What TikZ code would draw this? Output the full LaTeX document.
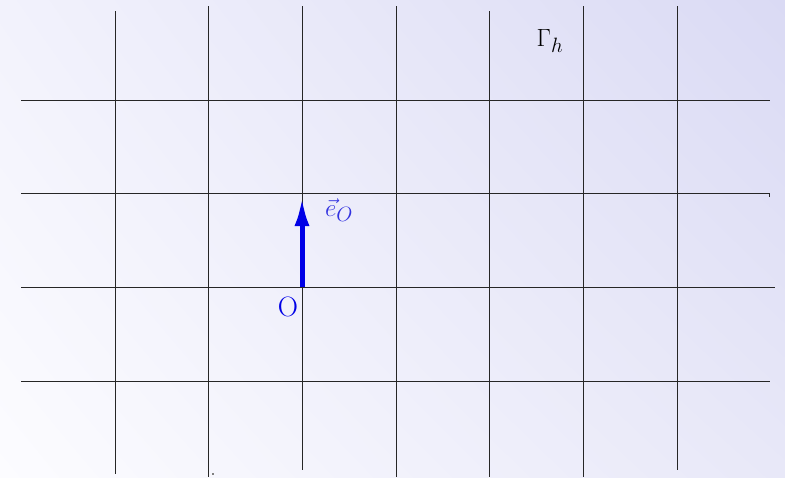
\documentclass[tikz,border=0pt]{standalone}
\usetikzlibrary{arrows.meta,shadings}
\definecolor{bgLL}{HTML}{FCFCFF}
\definecolor{bgUL}{HTML}{F2F2FC}
\definecolor{bgUR}{HTML}{DADAF4}
\definecolor{bgLR}{HTML}{E8E8F8}
\definecolor{arrblue}{HTML}{0000E6}
\definecolor{lblblue}{HTML}{3333E0}
\begin{document}
\begin{tikzpicture}[x=1pt,y=-1pt,
  gridline/.style={line width=0.9pt,draw=black!85},
  vecarrow/.style={line width=5pt,draw=arrblue,-{Latex[length=29pt,width=15pt]}},
  lbl/.style={inner sep=0pt,font=\fontsize{28}{33}\selectfont}]
\useasboundingbox (0pt,-477pt) rectangle (785pt,0pt);
\shade[lower left=bgLL,upper left=bgUL,upper right=bgUR,lower right=bgLR] (0pt,-477pt) rectangle (785pt,0pt);
% horizontal lines
\draw[gridline] (21,100) -- (770,100);
\draw[gridline] (21,193) -- (769,193) -- (769,197);
\draw[gridline] (21,287) -- (775,287);
\draw[gridline] (21,381) -- (770,381);
% vertical lines
\draw[gridline] (115,11) -- (115,474);
\draw[gridline] (208,6) -- (208,477);
\draw[gridline] (302,6) -- (302,470);
\draw[gridline] (396,6) -- (396,477);
\draw[gridline] (489,11) -- (489,477);
\draw[gridline] (583,6) -- (583,477);
\draw[gridline] (677,6) -- (677,470);
\fill[black!50] (212,473) rectangle (214,475);
% vector
\coordinate (O) at (302,287);
\coordinate (tip) at (302,197);
\draw[vecarrow] (O) -- (tip);
\node[lbl,text=arrblue] (Olbl) at (288,307) {O};
\node[lbl,text=lblblue] (elbl) at (339,210) {$\vec{e}_O$};
\node[lbl] (gam) at (550,41) {$\Gamma_h$};
\end{tikzpicture}
\end{document}
